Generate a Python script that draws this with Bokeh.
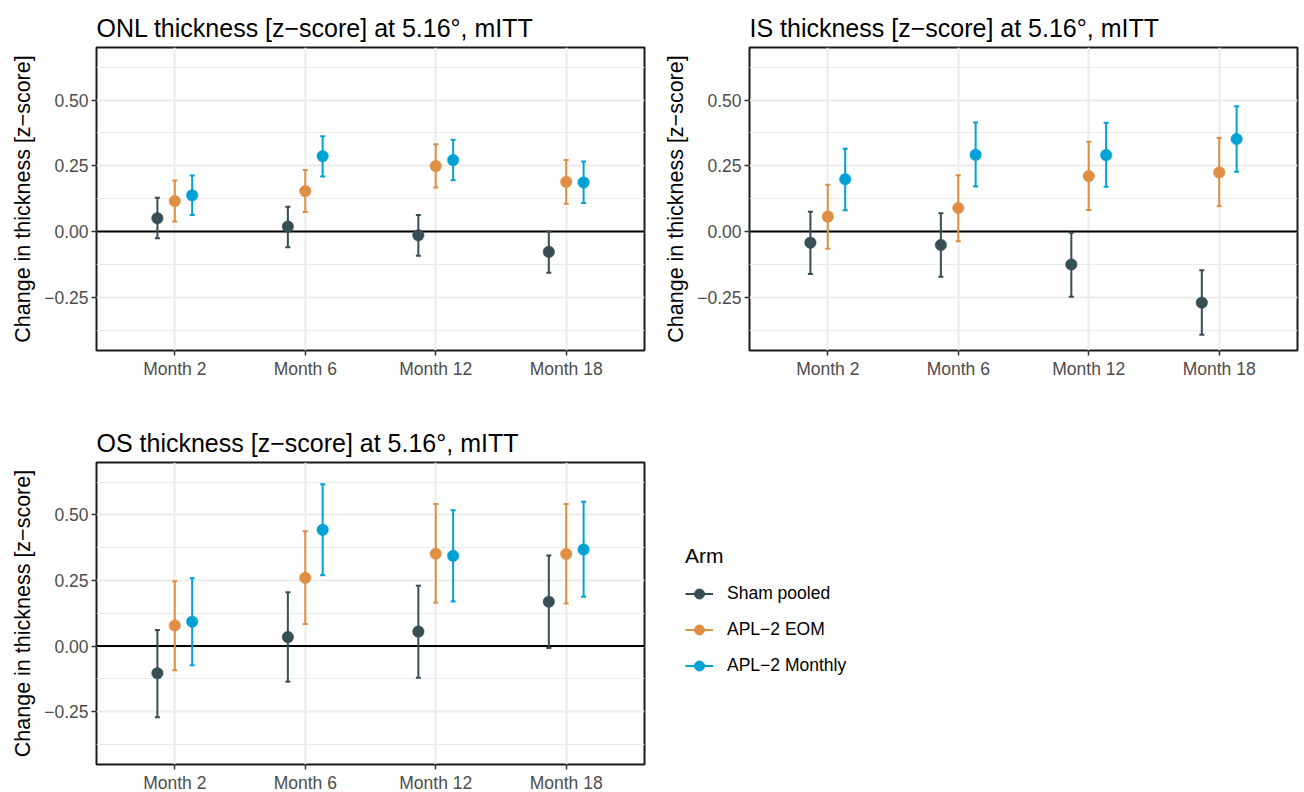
from bokeh.plotting import figure
from bokeh.models import (FixedTicker, Span, Whisker, TeeHead, ColumnDataSource,
                          Legend, LegendItem, Range1d)
from bokeh.layouts import row, column
from bokeh.embed import file_html
from bokeh.resources import INLINE

# ---------------- data ----------------
months = ["Month 2", "Month 6", "Month 12", "Month 18"]
arms = ["Sham pooled", "APL\u22122 EOM", "APL\u22122 Monthly"]
arm_colors = ["#374E55", "#DF8F44", "#00A1D5"]

titles = ["ONL thickness [z\u2212score] at 5.16\u00b0, mITT",
          "IS thickness [z\u2212score] at 5.16\u00b0, mITT",
          "OS thickness [z\u2212score] at 5.16\u00b0, mITT"]

# ONL
onl_sham_est = [0.051, 0.019, -0.014, -0.077]
onl_sham_lo = [-0.025, -0.059, -0.092, -0.156]
onl_sham_hi = [0.129, 0.095, 0.063, 0.000]
onl_eom_est = [0.116, 0.154, 0.249, 0.189]
onl_eom_lo = [0.038, 0.075, 0.168, 0.106]
onl_eom_hi = [0.194, 0.234, 0.332, 0.272]
onl_mon_est = [0.138, 0.287, 0.272, 0.187]
onl_mon_lo = [0.063, 0.210, 0.195, 0.109]
onl_mon_hi = [0.213, 0.363, 0.349, 0.267]

# IS
is_sham_est = [-0.042, -0.051, -0.125, -0.270]
is_sham_lo = [-0.161, -0.172, -0.248, -0.392]
is_sham_hi = [0.076, 0.070, -0.004, -0.147]
is_eom_est = [0.057, 0.090, 0.211, 0.225]
is_eom_lo = [-0.065, -0.037, 0.082, 0.096]
is_eom_hi = [0.178, 0.214, 0.342, 0.356]
is_mon_est = [0.199, 0.292, 0.291, 0.352]
is_mon_lo = [0.081, 0.172, 0.171, 0.228]
is_mon_hi = [0.315, 0.415, 0.414, 0.477]

# OS
os_sham_est = [-0.104, 0.034, 0.055, 0.169]
os_sham_lo = [-0.272, -0.136, -0.121, -0.008]
os_sham_hi = [0.061, 0.205, 0.230, 0.345]
os_eom_est = [0.078, 0.260, 0.352, 0.351]
os_eom_lo = [-0.092, 0.084, 0.165, 0.162]
os_eom_hi = [0.247, 0.438, 0.542, 0.542]
os_mon_est = [0.093, 0.443, 0.344, 0.368]
os_mon_lo = [-0.073, 0.270, 0.170, 0.188]
os_mon_hi = [0.258, 0.617, 0.518, 0.550]

y_ticks = [-0.25, 0.0, 0.25, 0.5]
y_tick_labels = ["\u22120.25", "0.00", "0.25", "0.50"]
y_minor = [-0.375, -0.125, 0.125, 0.375, 0.625]
dodge = [-0.1333, 0.0, 0.1333]

panels = [
    [(onl_sham_est, onl_sham_lo, onl_sham_hi), (onl_eom_est, onl_eom_lo, onl_eom_hi),
     (onl_mon_est, onl_mon_lo, onl_mon_hi)],
    [(is_sham_est, is_sham_lo, is_sham_hi), (is_eom_est, is_eom_lo, is_eom_hi),
     (is_mon_est, is_mon_lo, is_mon_hi)],
    [(os_sham_est, os_sham_lo, os_sham_hi), (os_eom_est, os_eom_lo, os_eom_hi),
     (os_mon_est, os_mon_lo, os_mon_hi)],
]

FONT = "Liberation Sans"
GRID = "#EBEBEB"


def make_panel(title, series, fh, min_top, min_bottom, min_left, min_right):
    p = figure(frame_width=548, frame_height=fh,
               min_border_top=min_top, min_border_bottom=min_bottom,
               min_border_left=min_left, min_border_right=min_right,
               x_range=Range1d(-0.6, 3.6), y_range=Range1d(-0.452, 0.70),
               output_backend="svg", toolbar_location=None, title=title)
    p.title.text_font = FONT
    p.title.text_font_size = "25px"
    p.title.text_font_style = "normal"
    p.title.text_color = "black"
    p.title.standoff = 11
    p.title.offset = 0

    p.outline_line_color = "#1a1a1a"
    p.outline_line_width = 2
    p.background_fill_color = "white"
    p.border_fill_color = "white"

    xt = FixedTicker(ticks=list(range(len(months))))
    p.xaxis.ticker = xt
    p.xgrid.ticker = xt
    p.xaxis.major_label_overrides = {i: m for i, m in enumerate(months)}
    yt = FixedTicker(ticks=y_ticks, minor_ticks=y_minor)
    p.yaxis.ticker = yt
    p.ygrid.ticker = yt
    p.yaxis.major_label_overrides = dict(zip(y_ticks, y_tick_labels))

    for ax in (p.xaxis, p.yaxis):
        ax.axis_line_color = None
        ax.major_tick_in = 0
        ax.major_tick_out = 5
        ax.major_tick_line_color = "#333333"
        ax.major_tick_line_width = 1.5
        ax.minor_tick_line_color = None
        ax.major_label_text_font = FONT
        ax.major_label_text_font_size = "17.5px"
        ax.major_label_text_color = "#4D4D4D"
        ax.major_label_standoff = 3
    p.yaxis.axis_label = "Change in thickness [z\u2212score]"
    p.yaxis.axis_label_text_font = FONT
    p.yaxis.axis_label_text_font_size = "21.5px"
    p.yaxis.axis_label_text_font_style = "normal"
    p.yaxis.axis_label_text_color = "black"
    p.yaxis.axis_label_standoff = 6

    p.xgrid.grid_line_color = GRID
    p.xgrid.grid_line_width = 2
    p.ygrid.grid_line_color = GRID
    p.ygrid.grid_line_width = 2
    p.ygrid.minor_grid_line_color = GRID
    p.ygrid.minor_grid_line_width = 1

    p.add_layout(Span(location=0, dimension="width", line_color="black",
                      line_width=2, level="underlay"))

    for k, (est, lo, hi) in enumerate(series):
        c = arm_colors[k]
        xs = [i + dodge[k] for i in range(len(months))]
        src = ColumnDataSource(dict(x=xs, est=est, lo=lo, hi=hi))
        p.add_layout(Whisker(source=src, base="x", upper="hi", lower="lo",
                             dimension="height", line_color=c, line_width=2,
                             upper_head=TeeHead(size=5, line_color=c, line_width=2),
                             lower_head=TeeHead(size=5, line_color=c, line_width=2)))
        p.scatter("x", "est", source=src, size=11.5, fill_color=c,
                  line_color=c, line_width=0.5)
    return p


p1 = make_panel(titles[0], panels[0], 303, 47, 50, 96, 10)
p2 = make_panel(titles[1], panels[1], 303, 47, 50, 95, 7)
p3 = make_panel(titles[2], panels[2], 302, 62, 28, 96, 10)

# legend figure
p4 = figure(width=640, height=392, x_range=Range1d(0, 1), y_range=Range1d(0, 1),
            x_axis_type=None, y_axis_type=None, output_backend="svg",
            toolbar_location=None, min_border=0)
p4.outline_line_color = None
p4.xgrid.visible = False
p4.ygrid.visible = False
items = []
for k, name in enumerate(arms):
    c = arm_colors[k]
    # placed outside the visible range: only the legend glyph is shown
    lr = p4.line(x=[-5, -4], y=[-5, -5], line_color=c, line_width=2)
    sr = p4.scatter(x=[-5], y=[-5], fill_color=c, line_color=c, size=11)
    items.append(LegendItem(label=name, renderers=[lr, sr]))
leg = Legend(items=items, location=(31, 83), title="Arm",
             title_text_font=FONT, title_text_font_size="21px",
             title_text_font_style="normal", title_text_color="black",
             title_standoff=13,
             label_text_font=FONT, label_text_font_size="17.5px",
             label_text_color="black",
             glyph_width=28, glyph_height=25, label_height=25,
             label_standoff=14, spacing=11, padding=0, margin=0,
             border_line_color=None, background_fill_alpha=0)
p4.add_layout(leg)

layout = column(row(p1, p2), row(p3, p4))

with open("out.html", "w") as f:
    f.write(file_html(layout, INLINE))
